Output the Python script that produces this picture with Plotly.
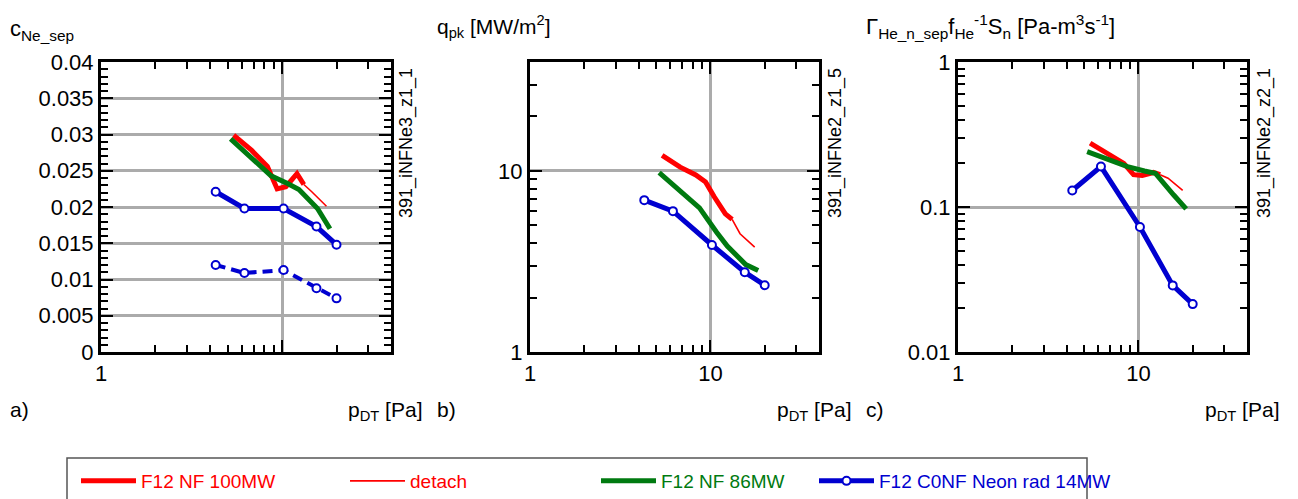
import math
import plotly.graph_objects as go

W, H = 1298, 499

# ---------------- data ----------------
blue_x = [4.3, 6.2, 10.2, 15.5, 20.0]
red_x = [5.4, 6.8, 8.3, 9.4, 10.5, 12.1, 13.2]
detach_x = [13.2, 14.6, 17.6]
green_x = [5.2, 8.7, 10.8, 12.4, 15.7, 18.4]

# panel a) c_Ne_sep
a_red = [0.0299, 0.0278, 0.0256, 0.0225, 0.0228, 0.0246, 0.0231]
a_detach = [0.0231, 0.0221, 0.0201]
a_green = [0.0294, 0.0243, 0.0232, 0.0224, 0.0198, 0.0170]
a_blue = [0.0221, 0.0198, 0.0198, 0.0173, 0.0148]
a_blue_dash = [0.0120, 0.0109, 0.0113, 0.0088, 0.0074]

# panel b) q_pk
b_red = [12.2, 10.5, 9.5, 8.7, 7.2, 5.8, 5.4]
b_detach = [5.4, 4.5, 3.8]
b_green = [9.8, 6.25, 4.6, 3.85, 3.04, 2.82]
b_blue = [6.9, 6.0, 3.9, 2.76, 2.34]

# panel c) Gamma_He
c_red = [0.276, 0.235, 0.200, 0.167, 0.165, 0.173, 0.167]
c_detach = [0.167, 0.158, 0.130]
c_green = [0.241, 0.190, 0.177, 0.171, 0.121, 0.097]
c_blue = [0.130, 0.190, 0.0728, 0.0288, 0.0214]

series_names = ["F12 NF 100MW", "detach", "F12 NF 86MW", "F12 C0NF Neon rad 14MW"]

# tick labels
a_yticks = [0, 0.005, 0.01, 0.015, 0.02, 0.025, 0.03, 0.035, 0.04]
a_yticktext = ["0", "0.005", "0.01", "0.015", "0.02", "0.025", "0.03", "0.035", "0.04"]
log_x_ticks = [1, 10]
a_xticktext = ["1", ""]
bc_xticktext = ["1", "10"]
x_minor = [2, 3, 4, 5, 6, 7, 8, 9, 20, 30]
b_yticks = [1, 10]
b_yticktext = ["1", "10"]
b_yminor = [2, 3, 4, 5, 6, 7, 8, 9, 20, 30]
c_yticks = [0.01, 0.1, 1]
c_yticktext = ["0.01", "0.1", "1"]
c_yminor = [0.02, 0.03, 0.04, 0.05, 0.06, 0.07, 0.08, 0.09, 0.2, 0.3, 0.4, 0.5, 0.6, 0.7, 0.8, 0.9]

RED = "#ff0000"
GREEN = "#007a10"
BLUE = "#0000d0"
FONT = "Liberation Sans, Arial, Helvetica, sans-serif"

fig = go.Figure()

panels = [
    ("x", "y", a_red, a_detach, a_green, a_blue),
    ("x2", "y2", b_red, b_detach, b_green, b_blue),
    ("x3", "y3", c_red, c_detach, c_green, c_blue),
]
for i, (xa, ya, r, d, g, b) in enumerate(panels):
    first = i == 0
    fig.add_trace(go.Scatter(x=red_x, y=r, xaxis=xa, yaxis=ya, mode="lines",
                             line=dict(color=RED, width=5), name=series_names[0],
                             showlegend=first, legend="legend"))
    fig.add_trace(go.Scatter(x=detach_x, y=d, xaxis=xa, yaxis=ya, mode="lines",
                             line=dict(color=RED, width=1.6), name=series_names[1],
                             showlegend=first, legend="legend2"))
    fig.add_trace(go.Scatter(x=green_x, y=g, xaxis=xa, yaxis=ya, mode="lines",
                             line=dict(color=GREEN, width=5), name=series_names[2],
                             showlegend=first, legend="legend3"))
    if first:
        fig.add_trace(go.Scatter(x=blue_x, y=a_blue_dash, xaxis=xa, yaxis=ya, mode="lines+markers",
                                 line=dict(color=BLUE, width=4, dash="10px,6px"),
                                 marker=dict(symbol="circle", size=8, color="white",
                                             line=dict(color=BLUE, width=2)),
                                 showlegend=False))
    fig.add_trace(go.Scatter(x=blue_x, y=b, xaxis=xa, yaxis=ya, mode="lines+markers",
                             line=dict(color=BLUE, width=5),
                             marker=dict(symbol="circle", size=8, color="white",
                                         line=dict(color=BLUE, width=2)),
                             name=series_names[3], showlegend=first, legend="legend4"))


def px_x(p):
    return p / W


def px_y(p):
    return 1 - p / H


y_dom = [px_y(352), px_y(62)]
x_doms = [[px_x(101), px_x(391)], [px_x(530), px_x(819)], [px_x(958), px_x(1247)]]

common = dict(showline=True, linecolor="black", linewidth=3, mirror="allticks",
              ticks="inside", ticklen=12, tickwidth=1.5, tickcolor="black",
              showgrid=True, gridcolor="#ababab", gridwidth=2.5, zeroline=False,
              tickfont=dict(family=FONT, size=22, color="black"))
minor_common = dict(ticks="inside", ticklen=7, tickwidth=1.5, tickcolor="black", showgrid=False)

lx = [0, math.log10(40)]
fig.update_layout(
    xaxis=dict(domain=x_doms[0], type="log", range=lx, tickmode="array", tickvals=log_x_ticks,
               ticktext=a_xticktext, minor=dict(tickvals=x_minor, **minor_common), anchor="y", **common),
    xaxis2=dict(domain=x_doms[1], type="log", range=lx, tickmode="array", tickvals=log_x_ticks,
                ticktext=bc_xticktext, minor=dict(tickvals=x_minor, **minor_common), anchor="y2", **common),
    xaxis3=dict(domain=x_doms[2], type="log", range=lx, tickmode="array", tickvals=log_x_ticks,
                ticktext=bc_xticktext, minor=dict(tickvals=x_minor, **minor_common), anchor="y3", **common),
    yaxis=dict(domain=y_dom, range=[0, 0.04], tickmode="array", tickvals=a_yticks, ticktext=a_yticktext,
               minor=dict(dtick=0.001, tick0=0, **minor_common), anchor="x", **common),
    yaxis2=dict(domain=y_dom, type="log", range=[0, math.log10(40)], tickmode="array", tickvals=b_yticks,
                ticktext=b_yticktext, minor=dict(tickvals=b_yminor, **minor_common), anchor="x2", **common),
    yaxis3=dict(domain=y_dom, type="log", range=[-2, 0], tickmode="array", tickvals=c_yticks,
                ticktext=c_yticktext, minor=dict(tickvals=c_yminor, **minor_common), anchor="x3", **common),
)

annots = []


def ann(text, x, y, xanchor="left", yanchor="middle", size=21, angle=0, color="black"):
    annots.append(dict(text=text, x=px_x(x), y=px_y(y), xref="paper", yref="paper",
                       xanchor=xanchor, yanchor=yanchor, showarrow=False, textangle=angle,
                       font=dict(family=FONT, size=size, color=color)))


ann("c<sub>Ne_sep</sub>", 8, 30, size=22)
ann("q<sub>pk</sub> [MW/m<sup>2</sup>]", 435, 27, size=21)
ann("Γ<sub>He_n_sep</sub>f<sub>He</sub><sup>-1</sup>S<sub>n</sub> [Pa-m<sup>3</sup>s<sup>-1</sup>]", 864, 27, size=22)
for lab, xl, xp in [("a)", 8, 346), ("b)", 435, 775), ("c)", 864, 1203)]:
    ann(lab, xl, 409)
    ann("p<sub>DT</sub> [Pa]", xp, 411)
for txt, xc in [("391_iNFNe3_z1_1", 407), ("391_iNFNe2_z1_5", 836), ("391_iNFNe2_z2_1", 1265)]:
    ann(txt, xc, 143, xanchor="center", yanchor="middle", size=18, angle=-90)

fig.update_layout(annotations=annots)

# legend frame
fig.add_shape(type="rect", xref="paper", yref="paper", x0=px_x(67), x1=px_x(1087),
              y0=px_y(515), y1=px_y(458), line=dict(color="#555555", width=1.5),
              fillcolor="rgba(0,0,0,0)", layer="above")

leg_common = dict(orientation="h", xanchor="left", yanchor="middle", y=px_y(481),
                  bgcolor="rgba(0,0,0,0)", borderwidth=0, itemwidth=55)
fig.update_layout(
    legend=dict(x=px_x(76), font=dict(family=FONT, size=19, color=RED), **leg_common),
    legend2=dict(x=px_x(345), font=dict(family=FONT, size=19, color=RED), **leg_common),
    legend3=dict(x=px_x(596), font=dict(family=FONT, size=19, color=GREEN), **leg_common),
    legend4=dict(x=px_x(814), font=dict(family=FONT, size=19, color=BLUE), **leg_common),
)

fig.update_layout(width=W, height=H, margin=dict(l=0, r=0, t=0, b=0, autoexpand=False),
                  paper_bgcolor="white", plot_bgcolor="white", font=dict(family=FONT))

fig.write_html("out.html")
